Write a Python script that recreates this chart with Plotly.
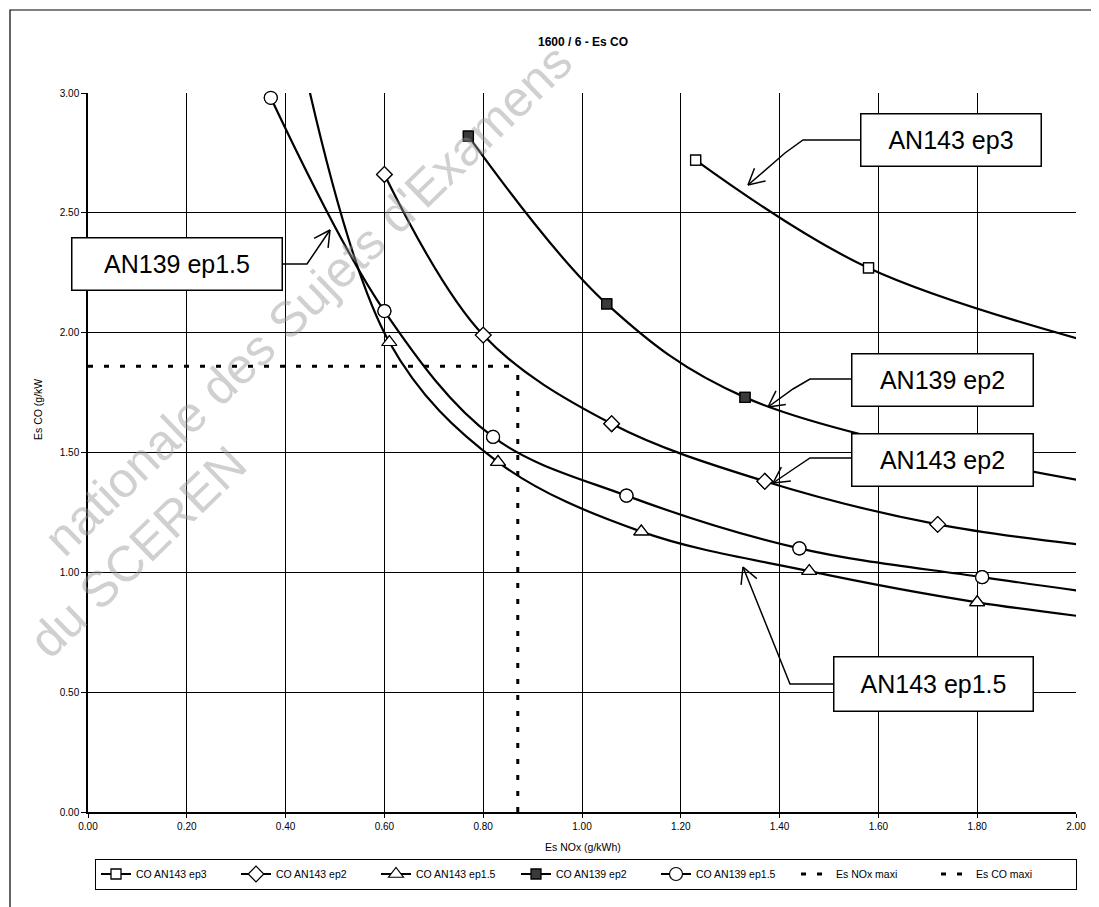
import math
import plotly.graph_objects as go

# ---------------- data ----------------
# CO AN143 ep3 (open squares) - last point lies beyond the x axis max
an143_ep3_x = [1.23, 1.58, 2.12]
an143_ep3_y = [2.72, 2.27, 1.91]
# CO AN143 ep2 (open diamonds)
an143_ep2_x = [0.60, 0.80, 1.06, 1.37, 1.72, 2.12]
an143_ep2_y = [2.66, 1.99, 1.62, 1.38, 1.20, 1.09]
# CO AN143 ep1.5 (open triangles) - first point above y max
an143_ep15_x = [0.41, 0.61, 0.83, 1.12, 1.46, 1.80, 2.20]
an143_ep15_y = [3.37, 1.96, 1.46, 1.17, 1.005, 0.875, 0.77]
# CO AN139 ep2 (filled squares)
an139_ep2_x = [0.77, 1.05, 1.33, 2.10]
an139_ep2_y = [2.82, 2.12, 1.73, 1.35]
# CO AN139 ep1.5 (open circles)
an139_ep15_x = [0.37, 0.60, 0.82, 1.09, 1.44, 1.81, 2.20]
an139_ep15_y = [2.98, 2.09, 1.565, 1.32, 1.10, 0.98, 0.87]
# limits
nox_maxi_x = [0.87, 0.87]
nox_maxi_y = [0.0, 1.86]
co_maxi_x = [0.0, 0.87]
co_maxi_y = [1.86, 1.86]

series_names = ["CO AN143 ep3", "CO AN143 ep2", "CO AN143 ep1.5",
                "CO AN139 ep2", "CO AN139 ep1.5"]
limit_names = ["Es NOx maxi", "Es CO maxi"]
x_ticks = [0.0, 0.2, 0.4, 0.6, 0.8, 1.0, 1.2, 1.4, 1.6, 1.8, 2.0]
y_ticks = [0.0, 0.5, 1.0, 1.5, 2.0, 2.5, 3.0]

# callouts: label, box centre (screen px), connector polyline (screen px) ending at arrow tip
callouts = [
    ("AN143 ep3", (951, 140), [(860, 140), (803, 140), (785, 153), (748, 185)]),
    ("AN139 ep1.5", (177, 264), [(283, 264), (307, 264), (330, 230)]),
    ("AN139 ep2", (942, 380), [(851, 379), (810, 379), (793, 389), (768, 407)]),
    ("AN143 ep2", (942, 460), [(851, 458), (810, 458), (795, 468), (773, 483)]),
    ("AN143 ep1.5", (933, 684), [(833, 684), (790, 684), (743, 567)]),
]
box_sizes = {"AN143 ep3": (182, 54), "AN139 ep1.5": (212, 54), "AN139 ep2": (183, 54),
             "AN143 ep2": (183, 54), "AN143 ep1.5": (201, 56)}

# ---------------- layout geometry (screen pixels) ----------------
OFF = 8                       # page body margin of the browser
W, H = 1099 - OFF, 907 - OFF  # figure size so that it ends at the window edge
L, R, T, B = 88, 1076, 93, 812
X_MAX, Y_MAX = 2.0, 3.0
FONT = "Liberation Sans, Arial, sans-serif"


def dx(px):
    return (px - L) / (R - L) * X_MAX


def dy(py):
    return (B - py) / (B - T) * Y_MAX


def pxp(px):
    return (px - L) / (R - L)


def pyp(py):
    return (B - py) / (B - T)


fig = go.Figure()

markers = [
    dict(symbol="square", size=10, color="white", line=dict(color="black", width=1.3)),
    dict(symbol="diamond", size=12, color="white", line=dict(color="black", width=1.2)),
    dict(symbol="triangle-up", size=13, color="white", line=dict(color="black", width=1.2)),
    dict(symbol="square", size=10, color="#3a3a3a", line=dict(color="black", width=1.3)),
    dict(symbol="circle", size=13, color="white", line=dict(color="black", width=1.2)),
]
all_x = [an143_ep3_x, an143_ep2_x, an143_ep15_x, an139_ep2_x, an139_ep15_x]
all_y = [an143_ep3_y, an143_ep2_y, an143_ep15_y, an139_ep2_y, an139_ep15_y]

for name, xs, ys, mk in zip(series_names, all_x, all_y, markers):
    fig.add_trace(go.Scatter(
        x=xs, y=ys, name=name, mode="lines+markers",
        line=dict(color="black", width=2.2, shape="spline", smoothing=1.0),
        marker=mk, cliponaxis=True, hoverinfo="x+y+name"))

# redraw in-range markers unclipped so edge markers stay whole
for name, xs, ys, mk in zip(series_names, all_x, all_y, markers):
    vx = [a for a, b in zip(xs, ys) if 0 <= a <= X_MAX and 0 <= b <= Y_MAX]
    vy = [b for a, b in zip(xs, ys) if 0 <= a <= X_MAX and 0 <= b <= Y_MAX]
    fig.add_trace(go.Scatter(x=vx, y=vy, mode="markers", marker=mk,
                             cliponaxis=False, showlegend=False, hoverinfo="skip"))

fig.add_trace(go.Scatter(x=nox_maxi_x, y=nox_maxi_y, name=limit_names[0], mode="lines",
                         line=dict(color="black", width=3, dash="5px,11px")))
fig.add_trace(go.Scatter(x=co_maxi_x, y=co_maxi_y, name=limit_names[1], mode="lines",
                         line=dict(color="black", width=3, dash="5px,11px")))

# ---------------- callouts ----------------
shapes = []
annotations = []
for label, (cx, cy), pts in callouts:
    bw, bh = box_sizes[label]
    annotations.append(dict(
        x=dx(cx), y=dy(cy), xref="x", yref="y", text=label, showarrow=False,
        xanchor="center", yanchor="middle",
        font=dict(family=FONT, size=25, color="black"),
        bgcolor="white", bordercolor="black", borderwidth=1.5, borderpad=0,
        width=bw - 3, height=bh - 3, align="center", valign="middle"))
    path = "M " + " L ".join(f"{dx(px)},{dy(py)}" for px, py in pts)
    shapes.append(dict(type="path", xref="x", yref="y", path=path,
                       line=dict(color="black", width=1.5), layer="above"))
    (px0, py0), (px1, py1) = pts[-2], pts[-1]
    ang = math.atan2(py1 - py0, px1 - px0)
    for s in (+1, -1):
        a = ang + math.pi + s * math.radians(28)
        wx, wy = px1 + 18 * math.cos(a), py1 + 18 * math.sin(a)
        shapes.append(dict(type="line", xref="x", yref="y",
                           x0=dx(px1), y0=dy(py1), x1=dx(wx), y1=dy(wy),
                           line=dict(color="black", width=1.5), layer="above"))

# outer chart border
shapes.append(dict(type="rect", xref="paper", yref="paper",
                   x0=pxp(10), x1=pxp(1095), y0=pyp(930), y1=pyp(10),
                   line=dict(color="black", width=1.2), fillcolor="rgba(0,0,0,0)"))

# axis titles
annotations.append(dict(x=pxp(583), y=pyp(847), xref="paper", yref="paper",
                        xanchor="center", yanchor="middle",
                        text="Es NOx (g/kWh)", showarrow=False,
                        font=dict(family=FONT, size=10.5, color="black")))
annotations.append(dict(x=pxp(38), y=pyp(410), xref="paper", yref="paper",
                        xanchor="center", yanchor="middle",
                        text="Es CO (g/kW", showarrow=False, textangle=-90,
                        font=dict(family=FONT, size=10.5, color="black")))

# watermark of the scanned document
wm_color = "rgba(150,150,150,0.45)"
annotations.append(dict(x=pxp(308), y=pyp(300), xref="paper", yref="paper",
                        xanchor="center", yanchor="middle",
                        text="nationale des Sujets d'Examens", showarrow=False,
                        textangle=-44,
                        font=dict(family="Liberation Sans, Arial", size=50, color=wm_color)))
annotations.append(dict(x=pxp(138), y=pyp(552), xref="paper", yref="paper",
                        xanchor="center", yanchor="middle",
                        text="du SCEREN", showarrow=False, textangle=-44,
                        font=dict(family="Liberation Sans, Arial", size=50, color=wm_color)))

fig.update_layout(
    width=W, height=H,
    margin=dict(l=L - OFF, r=W - (R - OFF), t=T - OFF, b=H - (B - OFF), pad=0,
                autoexpand=False),
    paper_bgcolor="white", plot_bgcolor="white",
    font=dict(family=FONT, size=10, color="black"),
    title=dict(text="<b>1600 / 6 - Es CO</b>", x=pxp(583), xref="paper",
               y=1 - (42 - OFF) / H, yref="container", xanchor="center", yanchor="middle",
               font=dict(family=FONT, size=12, color="black")),
    showlegend=True,
    legend=dict(orientation="h", x=pxp(586), xanchor="center", y=pyp(874),
                yanchor="middle", xref="paper", yref="paper",
                bordercolor="black", borderwidth=1, bgcolor="white",
                font=dict(family=FONT, size=10.5, color="black"),
                itemwidth=30, entrywidth=95, traceorder="normal"),
    shapes=shapes, annotations=annotations,
)
fig.update_xaxes(range=[0, X_MAX], tickvals=x_ticks, tickformat=".2f",
                 showgrid=True, gridcolor="black", gridwidth=1,
                 showline=True, linecolor="black", linewidth=1.5,
                 ticks="outside", ticklen=4, tickcolor="black", zeroline=False,
                 tickfont=dict(family=FONT, size=10))
fig.update_yaxes(range=[0, Y_MAX], tickvals=y_ticks, tickformat=".2f",
                 showgrid=True, gridcolor="black", gridwidth=1,
                 showline=True, linecolor="black", linewidth=1.5,
                 ticks="outside", ticklen=5, tickcolor="black", zeroline=False,
                 tickfont=dict(family=FONT, size=10))

fig.write_html("out.html")
